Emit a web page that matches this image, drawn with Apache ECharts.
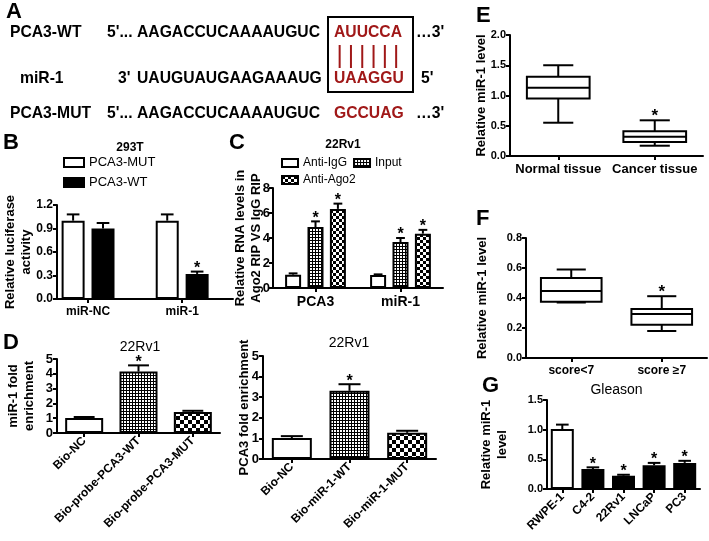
<!DOCTYPE html>
<html><head><meta charset="utf-8">
<script src="https://cdn.jsdelivr.net/npm/echarts@6/dist/echarts.min.js"></script>
<style>html,body{margin:0;padding:0;background:#fff}#c{width:709px;height:541px}</style>
</head><body><div id="c"></div>
<script>
// ---------------- DATA ----------------
// Panel A sequences
const seqNames = ['PCA3-WT', 'miR-1', 'PCA3-MUT'];
const seqLeft = ["5'...", "3'", "5'..."];
const seqBody = ['AAGACCUCAAAAUGUC', 'UAUGUAUGAAGAAAUG', 'AAGACCUCAAAAUGUC'];
const seqSite = ['AUUCCA', 'UAAGGU', 'GCCUAG'];
const seqRight = ["…3'", "5'", "…3'"];

// Panel B (293T luciferase)
const bCats = ['miR-NC', 'miR-1'];
const bMut = [1.0, 1.0];
const bMutErr = [0.08, 0.08];
const bWt = [0.9, 0.32];
const bWtErr = [0.07, 0.03];
const bWtStar = [0, 1];
const bNoStar = [0, 0];

// Panel C (22Rv1 RIP)
const cCats = ['PCA3', 'miR-1'];
const cIgG = [1.07, 1.05];
const cIgGErr = [0.1, 0.04];
const cInput = [4.88, 3.68];
const cInputErr = [0.45, 0.32];
const cAgo2 = [6.33, 4.35];
const cAgo2Err = [0.42, 0.3];
const cStarIgG = [0, 0];
const cStar = [1, 1];

// Panel D left (miR-1 fold enrichment)
const d1Cats = ['Bio-NC', 'Bio-probe-PCA3-WT', 'Bio-probe-PCA3-MUT'];
const d1Vals = [1.02, 4.15, 1.42];
const d1Err = [0.06, 0.42, 0.08];
const d1Star = [0, 1, 0];

// Panel D right (PCA3 fold enrichment)
const d2Cats = ['Bio-NC', 'Bio-miR-1-WT', 'Bio-miR-1-MUT'];
const d2Vals = [1.02, 3.31, 1.27];
const d2Err = [0.09, 0.32, 0.1];
const d2Star = [0, 1, 0];

// Panel E (box: min, q1, median, q3, max)
const eCats = ['Normal tissue', 'Cancer tissue'];
const eNormal = [0.55, 0.95, 1.13, 1.31, 1.5];
const eCancer = [0.17, 0.23, 0.32, 0.41, 0.59];
const eStar = [0, 1];

// Panel F (Gleason)
const fCats = ['score<7', 'score \u22657'];
const fLow = [0.37, 0.375, 0.447, 0.533, 0.59];
const fHigh = [0.18, 0.222, 0.293, 0.327, 0.412];
const fStar = [0, 1];

// Panel G (cell lines)
const gCats = ['RWPE-1', 'C4-2', '22Rv1', 'LNCaP', 'PC3'];
const gVals = [1.01, 0.335, 0.225, 0.40, 0.44];
const gErr = [0.075, 0.03, 0.015, 0.04, 0.035];
const gStar = [0, 1, 1, 1, 1];

// ---------------- STYLE / HELPERS ----------------
const FF = '"Liberation Sans", Arial, Helvetica, sans-serif';
const RED = '#a01818';
function font(sz, bold) { return (bold ? 'bold ' : '') + sz + 'px ' + FF; }

function checker(cell) {
  const c = document.createElement('canvas');
  c.width = c.height = cell * 2;
  const g = c.getContext('2d');
  g.fillStyle = '#fff'; g.fillRect(0, 0, cell * 2, cell * 2);
  g.fillStyle = '#000'; g.fillRect(0, 0, cell, cell); g.fillRect(cell, cell, cell, cell);
  return { image: c, repeat: 'repeat' };
}
function fineGrid() {
  const c = document.createElement('canvas');
  c.width = c.height = 3;
  const g = c.getContext('2d');
  g.fillStyle = '#000'; g.fillRect(0, 0, 3, 3);
  g.fillStyle = '#fff'; g.fillRect(1, 1, 2, 2);
  return { image: c, repeat: 'repeat' };
}
const FINE = fineGrid();
const COARSE = checker(4);
const COARSE_C = checker(3);

function txt(x, y, text, f, fill, align) {
  return { type: 'text', x: x, y: y, silent: true,
    style: { text: text, font: f, fill: fill || '#000', align: align || 'left', verticalAlign: 'middle' } };
}

function yAx(gi, max, interval, name, nameGap, dec, fs, margin) {
  return {
    type: 'value', gridIndex: gi, min: 0, max: max, interval: interval,
    name: name, nameLocation: 'middle', nameRotate: 90, nameGap: nameGap, nameMoveOverlap: false,
    nameTextStyle: { fontFamily: FF, fontWeight: 'bold', fontSize: 13, color: '#000', lineHeight: 16 },
    axisLine: { show: true, onZero: false, lineStyle: { color: '#000', width: 2 } },
    axisTick: { show: true, length: 4, lineStyle: { color: '#000', width: 2 } },
    axisLabel: { fontFamily: FF, fontWeight: 'bold', fontSize: fs, color: '#000', margin: margin || 4,
      formatter: v => v.toFixed(dec) },
    splitLine: { show: false }
  };
}
function xAx(gi, data, fs, rotate, extra) {
  return Object.assign({
    type: 'category', gridIndex: gi, data: data,
    axisLine: { show: true, lineStyle: { color: '#000', width: 2 } },
    axisTick: { show: true, alignWithLabel: true, length: 4, lineStyle: { color: '#000', width: 2 } },
    axisLabel: { interval: 0, fontFamily: FF, fontWeight: 'bold', fontSize: fs, color: '#000',
      rotate: rotate || 0, margin: rotate ? 6 : 7 },
    splitLine: { show: false }
  }, extra || {});
}
// value-type x axis whose integer positions carry category names (used for panel B spacing)
function xAxIdx(gi, cats, fs, min, max) {
  const idx = cats.map((c, i) => i);
  return {
    type: 'value', gridIndex: gi, min: min, max: max,
    axisLine: { show: true, onZero: false, lineStyle: { color: '#000', width: 2 } },
    axisTick: { show: true, customValues: idx, length: 4, lineStyle: { color: '#000', width: 2 } },
    axisLabel: { customValues: idx, fontFamily: FF, fontWeight: 'bold', fontSize: fs, color: '#000', margin: 7,
      formatter: v => cats[Math.round(v)] || '' },
    splitLine: { show: false }
  };
}
function off(i, n, w, gap) { return (i - (n - 1) / 2) * w * (1 + gap); }

function errSeries(ai, vals, errs, stars, dx, barW) {
  return {
    type: 'custom', xAxisIndex: ai, yAxisIndex: ai, z: 5, silent: true,
    data: vals.map((v, i) => [i, v, errs[i], stars[i]]),
    encode: { x: 0, y: 1 },
    renderItem: function (params, api) {
      const c = api.value(0), m = api.value(1), e = api.value(2), s = api.value(3);
      const p0 = api.coord([c, m]), p1 = api.coord([c, m + e]);
      const x = p0[0] + dx, cw = barW * 0.55;
      const ch = [
        { type: 'line', shape: { x1: x, y1: p0[1], x2: x, y2: p1[1] }, style: { stroke: '#000', lineWidth: 2 } },
        { type: 'line', shape: { x1: x - cw / 2, y1: p1[1], x2: x + cw / 2, y2: p1[1] }, style: { stroke: '#000', lineWidth: 2 } }
      ];
      if (s) ch.push({ type: 'text', style: { text: '*', x: x, y: p1[1] + 5, align: 'center', verticalAlign: 'bottom', font: font(16, true), fill: '#000' } });
      return { type: 'group', children: ch };
    }
  };
}

function boxSeries(ai, rows, stars, frac) {
  return {
    type: 'custom', xAxisIndex: ai, yAxisIndex: ai, z: 5, silent: true,
    data: rows.map((r, i) => [i].concat(r).concat([stars[i]])),
    encode: { x: 0, y: [1, 2, 3, 4, 5] },
    renderItem: function (params, api) {
      const c = api.value(0);
      const lo = api.coord([c, api.value(1)]), q1 = api.coord([c, api.value(2)]),
        md = api.coord([c, api.value(3)]), q3 = api.coord([c, api.value(4)]), hi = api.coord([c, api.value(5)]);
      const s = api.value(6);
      const x = md[0], bw = api.size([1, 0])[0] * frac, cw = bw * 0.48;
      const ls = { stroke: '#000', lineWidth: 2 };
      const ch = [
        { type: 'line', shape: { x1: x, y1: q3[1], x2: x, y2: hi[1] }, style: ls },
        { type: 'line', shape: { x1: x - cw / 2, y1: hi[1], x2: x + cw / 2, y2: hi[1] }, style: ls },
        { type: 'line', shape: { x1: x, y1: q1[1], x2: x, y2: lo[1] }, style: ls },
        { type: 'line', shape: { x1: x - cw / 2, y1: lo[1], x2: x + cw / 2, y2: lo[1] }, style: ls },
        { type: 'rect', shape: { x: x - bw / 2, y: q3[1], width: bw, height: q1[1] - q3[1] }, style: { fill: '#fff', stroke: '#000', lineWidth: 2 } },
        { type: 'line', shape: { x1: x - bw / 2, y1: md[1], x2: x + bw / 2, y2: md[1] }, style: ls }
      ];
      if (s) ch.push({ type: 'text', style: { text: '*', x: x, y: hi[1] + 5, align: 'center', verticalAlign: 'bottom', font: font(17, true), fill: '#000' } });
      return { type: 'group', children: ch };
    }
  };
}

function barS(ai, name, vals, w, gap, color) {
  return { type: 'bar', name: name, xAxisIndex: ai, yAxisIndex: ai, data: vals, barWidth: w, barGap: gap,
    itemStyle: { color: color, borderColor: '#000', borderWidth: 2 }, silent: true };
}
function barIdx(ai, name, vals, w, gap, color) {
  return { type: 'bar', name: name, xAxisIndex: ai, yAxisIndex: ai, data: vals.map((v, i) => [i, v]),
    barWidth: w, barGap: gap, itemStyle: { color: color, borderColor: '#000', borderWidth: 2 }, silent: true };
}
function barItems(ai, name, vals, w, fills) {
  return { type: 'bar', name: name, xAxisIndex: ai, yAxisIndex: ai, barWidth: w, silent: true,
    data: vals.map((v, i) => ({ value: v, itemStyle: { color: fills[i], borderColor: '#000', borderWidth: 2 } })) };
}

// ---------------- PANEL A graphics ----------------
const graphics = [];
const AF = font(15.7, true);
const rowY = [33, 79, 114];
const nameX = [10, 20, 10];
const leftX = [107, 118, 107];
const rightX = [416, 421, 416];
for (let r = 0; r < 3; r++) {
  graphics.push(txt(nameX[r], rowY[r], seqNames[r], AF));
  graphics.push(txt(leftX[r], rowY[r], seqLeft[r], AF));
  graphics.push(txt(137, rowY[r], seqBody[r], AF));
  graphics.push(txt(334, rowY[r], seqSite[r], AF, RED));
  graphics.push(txt(rightX[r], rowY[r], seqRight[r], AF));
}
graphics.push({ type: 'rect', shape: { x: 328, y: 17, width: 85, height: 75 }, style: { fill: 'none', stroke: '#000', lineWidth: 2 }, silent: true });
for (let i = 0; i < 6; i++) {
  const cx = 334 + 11.3 * (i + 0.5);
  graphics.push({ type: 'line', shape: { x1: cx, y1: 45, x2: cx, y2: 68 }, style: { stroke: RED, lineWidth: 2 }, silent: true });
}
// panel letters
[['A', 6, 12], ['B', 3, 143], ['C', 229, 143], ['D', 3, 343], ['E', 476, 16], ['F', 476, 219], ['G', 482, 386]].forEach(p => {
  graphics.push(txt(p[1], p[2], p[0], font(22, true)));
});
// panel titles
graphics.push(txt(130, 148, '293T', font(12, true), '#000', 'center'));
graphics.push(txt(343, 145, '22Rv1', font(12, true), '#000', 'center'));
graphics.push(txt(140, 347, '22Rv1', font(14, false), '#000', 'center'));
graphics.push(txt(349, 343, '22Rv1', font(14, false), '#000', 'center'));

// ---------------- OPTION ----------------
const grids = [
  { left: 57, top: 205, width: 176, height: 94 },   // B
  { left: 273, top: 188, width: 170, height: 100 }, // C
  { left: 57, top: 359, width: 163, height: 74 },   // D1
  { left: 263, top: 356, width: 173, height: 103 }, // D2
  { left: 510, top: 35, width: 193, height: 121 },  // E
  { left: 526, top: 238, width: 181, height: 120 }, // F
  { left: 547, top: 400, width: 153, height: 89 }   // G
].map(g => Object.assign({ outerBoundsMode: 'none', containLabel: false }, g));

const option = {
  animation: false,
  backgroundColor: '#fff',
  textStyle: { fontFamily: FF },
  grid: grids,
  xAxis: [
    xAxIdx(0, bCats, 12, -0.33, 1.54),
    xAx(1, cCats, 14),
    xAx(2, d1Cats, 12, 45),
    xAx(3, d2Cats, 12, 45),
    xAx(4, eCats, 13),
    xAx(5, fCats, 12, 0, { name: 'Gleason', nameLocation: 'middle', nameGap: 25, nameMoveOverlap: false,
      nameTextStyle: { fontFamily: FF, fontSize: 14, color: '#000' } }),
    xAx(6, gCats, 12, 45)
  ],
  yAxis: [
    yAx(0, 1.2, 0.3, 'Relative luciferase\nactivity', 23, 1, 12),
    yAx(1, 8, 2, 'Relative RNA levels in\nAgo2 RIP VS IgG RIP', 9, 0, 13, 3),
    yAx(2, 5, 1, 'miR-1 fold\nenrichment', 20, 0, 13),
    yAx(3, 5, 1, 'PCA3 fold enrichment', 11, 0, 13),
    yAx(4, 2, 0.5, 'Relative miR-1 level', 21, 1, 11),
    yAx(5, 0.8, 0.2, 'Relative miR-1 level', 36, 1, 11),
    yAx(6, 1.5, 0.5, 'Relative miR-1\nlevel', 37, 1, 11)
  ],
  legend: [
    { orient: 'vertical', left: 63, top: 156, itemWidth: 20, itemHeight: 9, itemGap: 7, padding: 0,
      icon: 'rect', selectedMode: false, data: ['PCA3-MUT', 'PCA3-WT'],
      textStyle: { fontFamily: FF, fontSize: 13, color: '#000' } },
    { orient: 'horizontal', left: 281, top: 157, itemWidth: 16, itemHeight: 8, itemGap: 6, padding: 0,
      icon: 'rect', selectedMode: false, data: ['Anti-IgG', 'Input'],
      textStyle: { fontFamily: FF, fontSize: 12, color: '#000' } },
    { orient: 'horizontal', left: 281, top: 174, itemWidth: 16, itemHeight: 8, itemGap: 6, padding: 0,
      icon: 'rect', selectedMode: false, data: ['Anti-Ago2'],
      textStyle: { fontFamily: FF, fontSize: 12, color: '#000' } }
  ],
  graphic: { elements: graphics },
  series: [
    // B
    barIdx(0, 'PCA3-MUT', bMut, 23, '30%', '#fff'),
    barIdx(0, 'PCA3-WT', bWt, 23, '30%', '#000'),
    errSeries(0, bMut, bMutErr, bNoStar, off(0, 2, 23, 0.3), 23),
    errSeries(0, bWt, bWtErr, bWtStar, off(1, 2, 23, 0.3), 23),
    // C
    barS(1, 'Anti-IgG', cIgG, 16, '40%', '#fff'),
    barS(1, 'Input', cInput, 16, '40%', FINE),
    barS(1, 'Anti-Ago2', cAgo2, 16, '40%', COARSE_C),
    errSeries(1, cIgG, cIgGErr, cStarIgG, off(0, 3, 16, 0.4), 16),
    errSeries(1, cInput, cInputErr, cStar, off(1, 3, 16, 0.4), 16),
    errSeries(1, cAgo2, cAgo2Err, cStar, off(2, 3, 16, 0.4), 16),
    // D1
    barItems(2, 'd1', d1Vals, 38, ['#fff', FINE, COARSE]),
    errSeries(2, d1Vals, d1Err, d1Star, 0, 38),
    // D2
    barItems(3, 'd2', d2Vals, 40, ['#fff', FINE, COARSE]),
    errSeries(3, d2Vals, d2Err, d2Star, 0, 40),
    // E
    boxSeries(4, [eNormal, eCancer], eStar, 0.65),
    // F
    boxSeries(5, [fLow, fHigh], fStar, 0.67),
    // G
    barItems(6, 'g', gVals, 23, ['#fff', '#000', '#000', '#000', '#000']),
    errSeries(6, gVals, gErr, gStar, 0, 23)
  ]
};

const chart = echarts.init(document.getElementById('c'), null, { renderer: 'canvas', width: 709, height: 541 });
chart.setOption(option);
</script>
</body></html>
